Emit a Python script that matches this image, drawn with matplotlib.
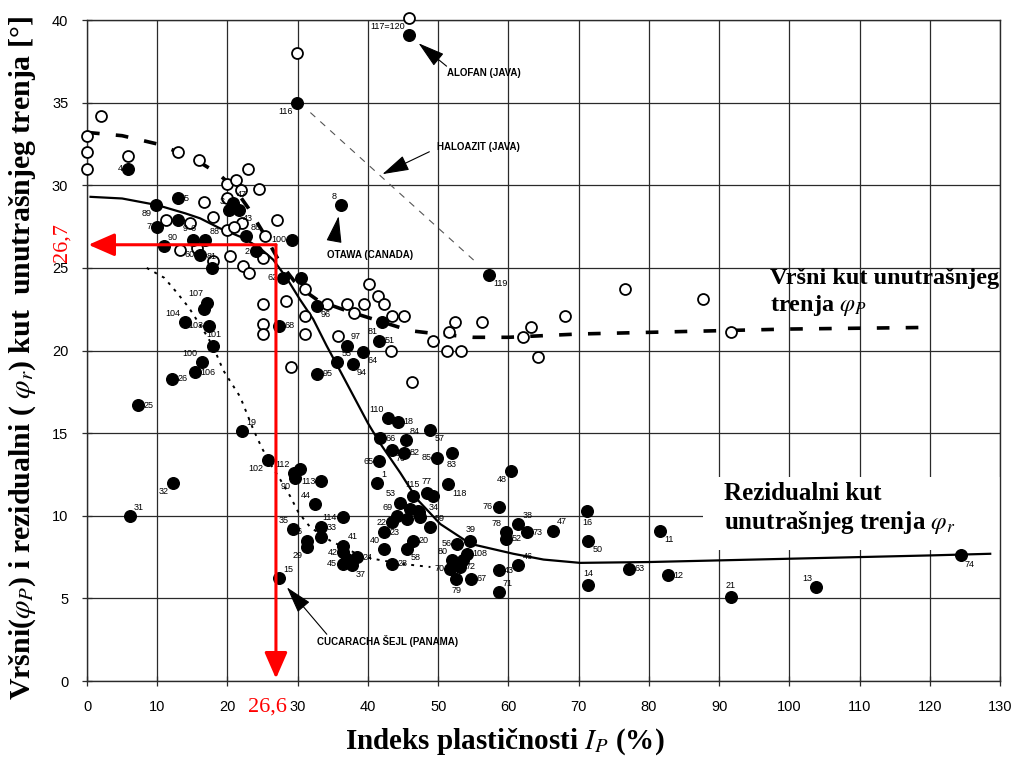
import numpy as np
import matplotlib
matplotlib.use("Agg")
import matplotlib.pyplot as plt
from matplotlib.patches import Rectangle

plt.rcParams["mathtext.fontset"] = "stix"
SERIF = ["Liberation Serif", "DejaVu Serif"]
SANS = ["Liberation Sans", "DejaVu Sans"]

# ── peak angle phi_P (open circles) ──────────────────────────────────────────
peak_x = [45.9, 29.9, 1.95, 0.0, 0.0, 0.0, 5.9, 12.9, 15.9, 19.9, 21.2, 22.9,
          21.9, 24.5, 16.6, 19.9, 11.3, 14.7, 17.9, 22.0, 27.0, 19.9, 20.9,
          25.3, 13.2, 15.6, 17.9, 20.4, 22.2, 23.1, 25.0, 28.3, 25.0, 25.0,
          25.0, 31.1, 31.1, 31.1, 34.2, 37.0, 38.0, 39.4, 40.1, 41.4, 42.3,
          43.4, 45.2, 35.8, 29.1, 46.3, 52.4, 56.3, 51.5, 49.2, 68.1, 76.6,
          63.2, 62.1, 43.3, 51.2, 53.3, 64.2, 87.7, 91.7]
peak_y = [40.1, 38.0, 34.2, 33.0, 32.0, 31.0, 31.8, 32.0, 31.5, 30.1, 30.3, 31.0,
          29.7, 29.8, 29.0, 29.2, 27.9, 27.7, 28.1, 27.7, 27.9, 27.3, 27.5,
          26.9, 26.1, 26.2, 25.4, 25.7, 25.1, 24.7, 25.6, 23.0, 22.8, 21.6,
          21.0, 23.7, 22.1, 21.0, 22.8, 22.8, 22.3, 22.8, 24.0, 23.3, 22.8,
          22.1, 22.1, 20.9, 19.0, 18.1, 21.7, 21.7, 21.1, 20.6, 22.1, 23.7,
          21.4, 20.8, 20.0, 20.0, 20.0, 19.6, 23.1, 21.1]

# ── residual angle phi_r (filled circles) with sample numbers ────────────────
res_x = [45.9, 29.9, 5.9, 13.0, 9.8, 20.2, 20.8, 21.6, 10.0, 13.0, 15.1, 16.8,
         10.9, 16.1, 17.8, 22.7, 24.0, 29.2, 27.9, 30.4, 32.7, 27.3, 17.1, 16.6,
         13.9, 17.4, 18.0, 16.3, 15.4, 12.1, 7.2, 22.1, 25.7, 29.4, 30.3, 29.6,
         33.3, 12.2, 6.1, 32.4, 36.4, 29.3, 33.3, 33.3, 31.3, 31.3, 36.5, 36.5,
         37.0, 38.4, 36.4, 37.7, 27.4, 32.7, 35.6, 37.8, 39.3, 37.0, 41.6, 42.0,
         42.9, 44.3, 41.7, 43.4, 45.1, 45.4, 41.6, 41.3, 44.5, 44.1, 43.4, 42.3,
         42.3, 46.4, 45.5, 43.4, 46.4, 47.2, 46.0, 45.6, 48.9, 49.9, 51.9, 51.4,
         48.4, 49.3, 60.3, 58.6, 47.1, 47.4, 48.9, 52.7, 54.6, 59.6, 59.6, 61.4,
         62.7, 66.3, 71.2, 71.4, 81.6, 54.1, 53.6, 53.1, 51.7, 52.0, 52.6, 54.7,
         58.6, 58.6, 61.4, 71.4, 77.1, 82.7, 91.7, 103.8, 124.4, 57.2, 36.1]
res_y = [39.1, 35.0, 31.0, 29.2, 28.8, 28.5, 28.9, 28.5, 27.5, 27.9, 26.7, 26.7,
         26.3, 25.8, 25.0, 26.9, 26.0, 26.7, 24.4, 24.4, 22.7, 21.5, 22.9, 22.5,
         21.7, 21.5, 20.3, 19.3, 18.7, 18.3, 16.7, 15.1, 13.4, 12.6, 12.8, 12.3,
         12.1, 12.0, 10.0, 10.7, 9.9, 9.2, 9.3, 8.7, 8.5, 8.1, 8.2, 7.8,
         7.4, 7.5, 7.1, 7.0, 6.25, 18.6, 19.3, 19.2, 19.9, 20.3, 20.6, 21.7,
         15.9, 15.7, 14.7, 14.0, 13.8, 14.6, 13.3, 12.0, 10.8, 10.0, 9.6, 9.0,
         8.0, 8.5, 8.0, 7.1, 11.2, 10.2, 10.4, 9.8, 15.2, 13.5, 13.8, 11.9,
         11.4, 11.2, 12.7, 10.55, 10.3, 9.9, 9.3, 8.3, 8.5, 9.0, 8.6, 9.5,
         9.0, 9.1, 10.3, 8.5, 9.1, 7.7, 7.3, 6.9, 6.8, 7.3, 6.2, 6.2,
         6.7, 5.4, 7.0, 5.8, 6.8, 6.4, 5.1, 5.7, 7.6, 24.6, 28.8]
res_num = ["117=120", "116", "4", "5", "89", "3", "47", "43", "7", "9", "6", "88",
           "90", "60", "81", "86", "2", "100", "62", "", "96", "68", "107", "",
           "104", "103", "101", "100", "106", "26", "25", "19", "102", "112", "", "90",
           "113", "32", "31", "44", "114", "35", "33", "", "36", "29", "41", "42",
           "", "24", "45", "37", "15", "95", "55", "94", "64", "97", "51", "81",
           "110", "18", "66", "70", "82", "84", "65", "1", "53", "69", "22", "23",
           "40", "20", "58", "28", "115", "", "", "", "57", "85", "83", "118",
           "77", "34", "48", "76", "98", "", "59", "56", "39", "78", "52", "38",
           "73", "47", "16", "50", "11", "108", "", "72", "70", "80", "79", "67",
           "43", "71", "46", "14", "63", "12", "21", "13", "74", "119", "8"]
# where each number sits relative to its point
num_pos = ["ul", "dl", "l", "r", "dl", "ul", "ur", "dr", "l", "dr", "u", "ur",
           "ur", "l", "u", "ur", "l", "l", "l", "r", "dr", "r", "ul", "r",
           "ul", "l", "u", "ul", "r", "r", "r", "ur", "dl", "ul", "r", "dl",
           "l", "dl", "ur", "ul", "l", "ul", "r", "r", "ul", "dl", "ur", "l",
           "r", "r", "l", "dr", "ur", "r", "ur", "dr", "dr", "ur", "r", "dl",
           "ul", "r", "r", "dr", "r", "ur", "l", "ur", "ul", "ul", "l", "r",
           "ul", "r", "dr", "r", "u", "r", "r", "r", "dr", "l", "d", "dr",
           "u", "d", "dl", "l", "dl", "r", "ur", "l", "u", "ul", "r", "ur",
           "r", "ur", "d", "dr", "dr", "r", "r", "r", "l", "ul", "d", "r",
           "r", "ur", "ur", "u", "r", "r", "u", "ul", "dr", "dr", "ul"]

# ── trend curves ─────────────────────────────────────────────────────────────
res_curve_x = [0.5, 5, 10, 14, 16.1, 18.9, 22.3, 24.6, 26.5, 28.4, 30.3, 32.2,
               34.1, 36, 38, 40, 41.7, 44.6, 47, 50.3, 54.6, 60.7, 65, 70.2,
               80, 90, 100, 110, 120, 128.6]
res_curve_y = [29.3, 29.2, 28.8, 28.3, 28.0, 27.4, 26.8, 26.2, 25.5, 24.4, 23.1,
               21.9, 20.3, 18.8, 17.2, 15.6, 14.4, 12.6, 11.0, 9.5, 8.3, 7.7,
               7.35, 7.15, 7.2, 7.3, 7.4, 7.5, 7.6, 7.7]
peak_curve_x = [0, 5, 10, 13, 16, 18.7, 21, 23, 25, 27.5, 29.5, 31, 33, 35, 37,
                40, 43, 46, 50, 55, 60, 65, 70, 80, 90, 100, 110, 120]
peak_curve_y = [33.2, 33.0, 32.5, 32.0, 31.4, 30.7, 29.8, 28.6, 27.2, 25.3, 24.2,
                23.6, 23.0, 22.7, 22.4, 22.0, 21.6, 21.2, 21.0, 20.8, 20.8, 20.9,
                21.0, 21.1, 21.2, 21.3, 21.35, 21.4]
low_curve_x = [8.5, 11, 12.8, 14.5, 16, 17.2, 18.2, 19.4, 21.8, 23.7, 24.9, 26.3,
               27.5, 28.9, 30.1, 31.8, 34.6, 38.4, 40.7, 44.6, 48.9]
low_curve_y = [25.0, 24.4, 23.5, 22.6, 21.6, 20.8, 20.0, 18.8, 17.2, 15.2, 14.1,
               13.0, 12.2, 11.2, 10.2, 9.3, 8.5, 7.7, 7.4, 7.1, 6.9]
halo_x = [31.8, 55.5]
halo_y = [34.4, 25.3]

# reading marked in red
ip_read, phi_read = "26,6", "26,7"
read_x, read_y = 26.9, 26.4

x_ticks = list(range(0, 131, 10))
y_ticks = list(range(0, 41, 5))

# ── figure ───────────────────────────────────────────────────────────────────
fig = plt.figure(figsize=(10.19, 7.67), dpi=100)
ax = fig.add_axes([0.0854, 0.1121, 0.896, 0.8618])
ax.set_xlim(0, 130)
ax.set_ylim(0, 40)
ax.set_xticks(x_ticks)
ax.set_yticks(y_ticks)
ax.grid(True, color="#2a2a2a", lw=0.9)
ax.set_axisbelow(True)
for s in ax.spines.values():
    s.set_color("#2a2a2a")
    s.set_linewidth(1.0)
ax.tick_params(direction="inout", length=7, width=0.9, color="#2a2a2a",
               labelsize=10.5, pad=10)
for lab in ax.get_xticklabels() + ax.get_yticklabels():
    lab.set_family(SANS)

# white box behind the residual-curve caption
ax.add_patch(Rectangle((87.7, 7.95), 42.3, 4.4, fc="white", ec="none", zorder=2))

ax.plot(res_curve_x, res_curve_y, color="black", lw=1.6, zorder=3)
ax.plot(peak_curve_x, peak_curve_y, color="black", lw=2.6, dashes=(3.5, 4.5), zorder=3)
ax.plot(low_curve_x, low_curve_y, color="black", lw=1.4, dashes=(1.5, 3), zorder=3)
ax.plot(halo_x, halo_y, color="#555555", lw=0.8, dashes=(6, 6), zorder=3)

ax.scatter(peak_x, peak_y, s=62, facecolors="white", edgecolors="black",
           linewidths=1.3, zorder=4, clip_on=False)
ax.scatter(res_x, res_y, s=70, color="black", zorder=5, clip_on=False)

POS = {"r": (4, 0, "left", "center"), "l": (-4, 0, "right", "center"),
       "ur": (3, 3, "left", "bottom"), "ul": (-3, 3, "right", "bottom"),
       "dr": (3, -3, "left", "top"), "dl": (-3, -3, "right", "top"),
       "u": (0, 5, "center", "bottom"), "d": (0, -5, "center", "top")}
for x, y, n, p in zip(res_x, res_y, res_num, num_pos):
    if not n:
        continue
    dx, dy, ha, va = POS[p]
    ax.annotate(n, (x, y), xytext=(dx, dy), textcoords="offset points",
                ha=ha, va=va, fontsize=6.5, family=SANS, zorder=6)

# named samples with arrows
arrow_kw = dict(arrowstyle="-|>,head_length=1.2,head_width=0.35",
                color="black", lw=0.8, mutation_scale=14)
notes = [("ALOFAN (JAVA)", (51.2, 36.8), (46.9, 38.7), (51.5, 37.1)),
         ("HALOAZIT (JAVA)", (49.8, 32.3), (41.7, 30.6), (49.1, 32.1)),
         ("OTAWA (CANADA)", (34.1, 25.8), (35.9, 28.3), (35.3, 26.9)),
         ("CUCARACHA ŠEJL (PANAMA)", (32.7, 2.45), (28.2, 5.8), (34.4, 2.7))]
for txt, tpos, tip, tail in notes:
    ax.annotate("", xy=tip, xytext=tail, arrowprops=arrow_kw, zorder=6)
    ax.text(tpos[0], tpos[1], txt, fontsize=7, fontweight="bold", family=SANS,
            ha="left", va="center", zorder=6)

# red reading lines
red_kw = dict(arrowstyle="-|>,head_length=0.8,head_width=0.35", color="red",
              lw=2.2, mutation_scale=20, shrinkA=0, shrinkB=0)
ax.annotate("", xy=(0.2, read_y), xytext=(read_x, read_y), arrowprops=red_kw, zorder=7)
ax.annotate("", xy=(read_x, 0.15), xytext=(read_x, read_y), arrowprops=red_kw, zorder=7)
fig.text(62 / 1019, 1 - 243 / 767, phi_read, color="red", fontsize=16,
         family=SERIF, rotation=90, ha="center", va="center")
fig.text(267 / 1019, 1 - 707 / 767, ip_read, color="red", fontsize=16,
         family=SERIF, ha="center", va="center")

# curve captions
ax.text(97.3, 25.0, "Vršni kut unutrašnjeg\ntrenja $\\varphi_P$", fontsize=17.5,
        fontweight="bold", family=SERIF, ha="left", va="top", linespacing=1.25,
        zorder=6)
ax.text(90.7, 12.05, "Rezidualni kut\nunutrašnjeg trenja $\\varphi_r$", fontsize=18,
        fontweight="bold", family=SERIF, ha="left", va="top", linespacing=1.2,
        zorder=6)

fig.text(505 / 1019, 1 - 742 / 767, "Indeks plastičnosti $I_P$ (%)", fontsize=21,
         fontweight="bold", family=SERIF, ha="center", va="center")
fig.text(23 / 1019, 1 - 358 / 767,
         "Vršni($\\varphi_P$) i rezidualni ( $\\varphi_r$) kut  unutrašnjeg trenja [°]",
         fontsize=21.5, fontweight="bold", family=SERIF, rotation=90,
         ha="center", va="center")

fig.savefig("out.png", dpi=100, facecolor="white")
